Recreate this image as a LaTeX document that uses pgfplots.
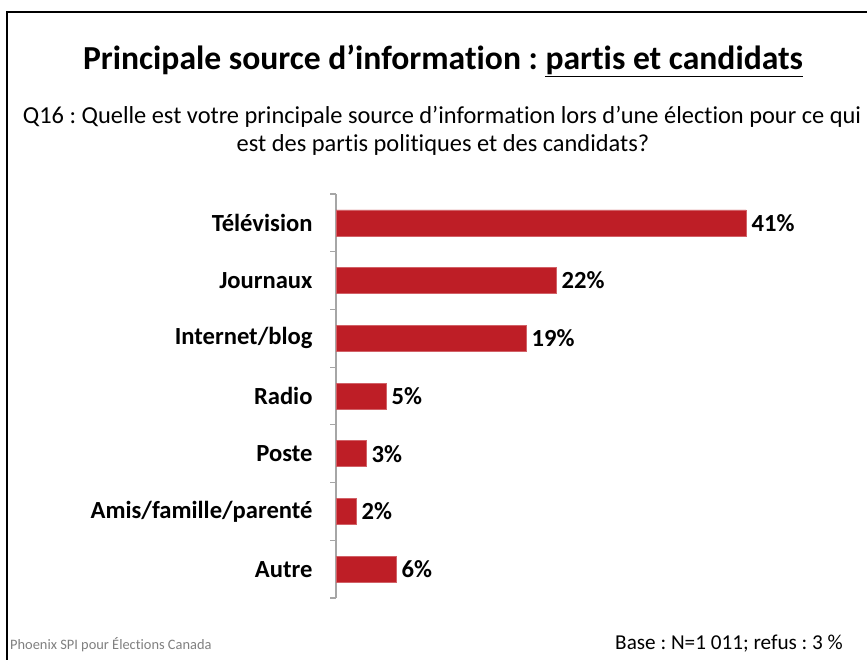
\documentclass[border=0pt]{standalone}
\usepackage{pgfplots}
\pgfplotsset{compat=1.18}
\usepackage{fontspec}
\setmainfont{Carlito}[Ligatures=CommonOff]
\frenchspacing
\definecolor{barred}{RGB}{190,30,38}
\definecolor{axgray}{RGB}{166,166,166}
\begin{document}
\begin{tikzpicture}[x=1pt,y=1pt]
\useasboundingbox (0,0) rectangle (867,660);
\fill[white] (0,0) rectangle (867,660);
\draw[line width=2pt] (7,0) -- (7,648) -- (867,648);
\node[anchor=base,font=\fontsize{33.6}{38}\selectfont\bfseries] at (443,590) {Principale source d’information : \underline{partis et candidats}};
\node[anchor=base,font=\fontsize{24.4}{28}\selectfont] at (442,536) {Q16 : Quelle est votre principale source d’information lors d’une élection pour ce qui};
\node[anchor=base,font=\fontsize{24.4}{28}\selectfont] at (443,508) {est des partis politiques et des candidats?};
\node[anchor=base west,font=\fontsize{14.4}{17}\selectfont,text=gray,inner sep=0pt] at (10,10) {Phoenix SPI pour Élections Canada};
\node[anchor=base east,font=\fontsize{21.2}{25}\selectfont,inner sep=0pt] at (843,10) {Base : N=1 011; refus : 3 \%};
\begin{axis}[
  at={(336pt,62pt)}, anchor=south west,
  scale only axis, width=500pt, height=404pt,
  xmin=0, xmax=50, ymin=-0.5, ymax=6.5,
  y dir=reverse,
  xbar, bar width=26pt,
  axis x line=none,
  axis y line*=left,
  y axis line style={axgray, line width=1.2pt, -},
  ytick={0,...,6},
  yticklabels={Télévision,Journaux,Internet/blog,Radio,Poste,Amis/famille/parenté,Autre},
  major tick length=0pt,
  minor ytick={-0.5,0.5,...,6.5},
  minor tick length=6pt,
  tick align=outside,
  minor tick style={axgray, line width=1.2pt},
  yticklabel style={font=\fontsize{24.6}{28}\selectfont\bfseries, xshift=-20pt},
  /pgf/number format/assume math mode=true,
  nodes near coords={\pgfmathprintnumber{\pgfplotspointmeta}\%},
  nodes near coords style={font=\fontsize{24.6}{28}\selectfont\bfseries, anchor=west, xshift=2pt},
  clip=false,
]
\addplot[fill=barred, draw=barred!70!white, line width=0.6pt] coordinates {(41,0) (22,1) (19,2) (5,3) (3,4) (2,5) (6,6)};
\end{axis}
\end{tikzpicture}
\end{document}
